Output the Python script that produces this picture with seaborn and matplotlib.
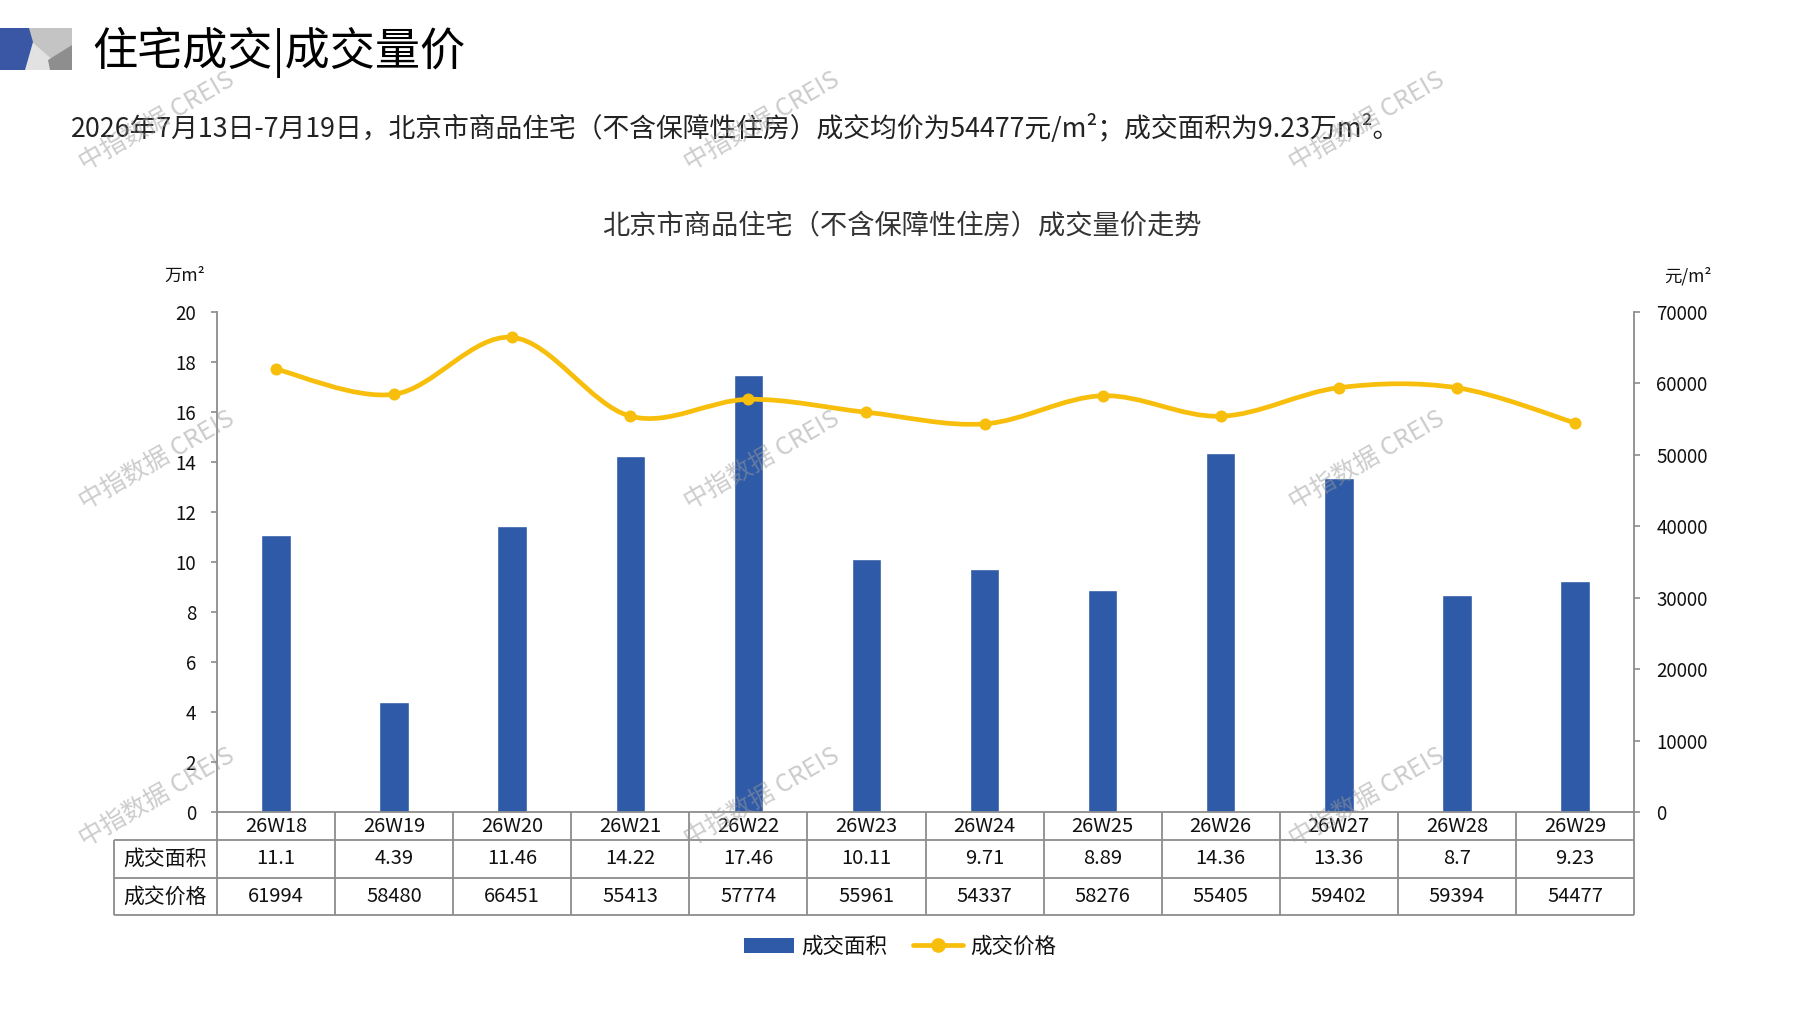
import numpy as np
import pandas as pd
import seaborn as sns
import matplotlib
matplotlib.use("Agg")
import matplotlib.pyplot as plt
from matplotlib.path import Path
from matplotlib.patches import PathPatch, Polygon, Patch
from matplotlib.lines import Line2D
import matplotlib.transforms as mtransforms

# ---------------- data ----------------
weeks = ["26W18", "26W19", "26W20", "26W21", "26W22", "26W23",
         "26W24", "26W25", "26W26", "26W27", "26W28", "26W29"]
area = [11.1, 4.39, 11.46, 14.22, 17.46, 10.11, 9.71, 8.89, 14.36, 13.36, 8.7, 9.23]
area_labels = ["11.1", "4.39", "11.46", "14.22", "17.46", "10.11",
               "9.71", "8.89", "14.36", "13.36", "8.7", "9.23"]
price = [61994, 58480, 66451, 55413, 57774, 55961, 54337, 58276, 55405, 59402, 59394, 54477]
left_ticks = [0, 2, 4, 6, 8, 10, 12, 14, 16, 18, 20]
right_ticks = [0, 10000, 20000, 30000, 40000, 50000, 60000, 70000]
row_names = ["成交面积", "成交价格"]
series_names = ["成交面积", "成交价格"]

title = "住宅成交|成交量价"
subtitle = "2026年7月13日-7月19日，北京市商品住宅（不含保障性住房）成交均价为54477元/m²；成交面积为9.23万m²。"
chart_title = "北京市商品住宅（不含保障性住房）成交量价走势"
left_unit = "万m²"
right_unit = "元/m²"
watermark = "中指数据 CREIS"

# ---------------- style ----------------
BLUE = "#2E5AA7"
YELLOW = "#F8BE0C"
GREY = "#8C8C8C"
W, H = 1797, 1010

sns.set_theme(style="white")
plt.rcParams['font.family'] = ['Noto Sans CJK SC', 'DejaVu Sans']
plt.rcParams['axes.unicode_minus'] = False

fig = plt.figure(figsize=(W / 100, H / 100), dpi=100)
fig.patch.set_facecolor("white")

def fx(px):
    return px / W

def fy(py):
    return 1 - py / H

# axes geometry in pixels
AX_L, AX_R, AX_T, AX_B = 217, 1634, 312, 812
ax = fig.add_axes([fx(AX_L), fy(AX_B), (AX_R - AX_L) / W, (AX_B - AX_T) / H])
ax.set_facecolor("none")

df = pd.DataFrame({"week": weeks, "area": area, "price": price})
sns.barplot(data=df, x="week", y="area", ax=ax, color=BLUE, saturation=1,
            width=0.25, zorder=2)
ax.set_xlim(-0.5, len(weeks) - 0.5)
ax.set_ylim(0, 20)
ax.set_yticks(left_ticks)
ax.set_xticks([])
ax.set_xlabel("")
ax.set_ylabel("")
ax.tick_params(axis="y", direction="out", length=4, width=1.2, color=GREY,
               labelsize=13.5, pad=11, labelcolor="#111111", left=True)

ax2 = ax.twinx()
ax2.set_ylim(0, 70000)
ax2.set_yticks(right_ticks)
ax2.tick_params(axis="y", direction="out", length=4, width=1.2, color=GREY,
                labelsize=13.5, pad=12, labelcolor="#111111", right=True)

for a in (ax, ax2):
    for s in a.spines.values():
        s.set_visible(False)
ax.spines["left"].set_visible(True)
ax.spines["left"].set_color(GREY)
ax.spines["left"].set_linewidth(1.3)
ax.spines["bottom"].set_visible(True)
ax.spines["bottom"].set_color(GREY)
ax.spines["bottom"].set_linewidth(1.3)
ax2.spines["right"].set_visible(True)
ax2.spines["right"].set_color(GREY)
ax2.spines["right"].set_linewidth(1.3)

# smooth (Excel-like) price line built as Bezier path in data coordinates
xs = np.arange(len(price), dtype=float)
ys = np.array(price, dtype=float)
n = len(xs)
verts = [(xs[0], ys[0])]
codes = [Path.MOVETO]
for i in range(n - 1):
    i0, i3 = max(i - 1, 0), min(i + 2, n - 1)
    c1 = (xs[i] + (xs[i + 1] - xs[i0]) / 6, ys[i] + (ys[i + 1] - ys[i0]) / 6)
    c2 = (xs[i + 1] - (xs[i3] - xs[i]) / 6, ys[i + 1] - (ys[i3] - ys[i]) / 6)
    verts += [c1, c2, (xs[i + 1], ys[i + 1])]
    codes += [Path.CURVE4] * 3
ax2.add_patch(PathPatch(Path(verts, codes), facecolor="none", edgecolor=YELLOW,
                        lw=3.4, capstyle="round", joinstyle="round", zorder=3))
sns.scatterplot(x=xs, y=ys, ax=ax2, s=75, color=YELLOW, edgecolor=YELLOW,
                linewidth=0, zorder=4, legend=False)
ax2.set_xlim(-0.5, len(weeks) - 0.5)
ax2.set_ylim(0, 70000)
ax2.set_xlabel("")
ax2.set_ylabel("")

# ---------------- data table below the axis ----------------
def ay(py):
    return (AX_B - py) / (AX_B - AX_T)

def axx(px):
    return (px - AX_L) / (AX_R - AX_L)

blend = mtransforms.blended_transform_factory(ax.transData, ax.transAxes)
r1, r2, r3 = ay(840), ay(878), ay(915)
lk = dict(color=GREY, lw=1.3, clip_on=False, solid_capstyle="butt")
for yy in (r1, r2, r3):
    ax.add_line(Line2D([axx(114), 1], [yy, yy], transform=ax.transAxes, **lk))
ax.add_line(Line2D([axx(114), axx(114)], [r1, r3], transform=ax.transAxes, **lk))
for k in range(len(weeks) + 1):
    xv = k - 0.5
    ax.add_line(Line2D([xv, xv], [0, r3], transform=blend, **lk))

cat_y = (0 + r1) / 2
row2_y = (r1 + r2) / 2
row3_y = (r2 + r3) / 2
TFS = 14.5
for i, w in enumerate(weeks):
    ax.text(i, cat_y, w, transform=blend, ha="center", va="center",
            fontsize=TFS, color="#111111", clip_on=False)
    ax.text(i, row2_y, area_labels[i], transform=blend, ha="center", va="center",
            fontsize=TFS, color="#111111", clip_on=False)
    ax.text(i, row3_y, str(price[i]), transform=blend, ha="center", va="center",
            fontsize=TFS, color="#111111", clip_on=False)
lab_x = axx((114 + 216) / 2)
ax.text(lab_x, row2_y, row_names[0], transform=ax.transAxes, ha="center", va="center",
        fontsize=15, color="#111111", clip_on=False)
ax.text(lab_x, row3_y, row_names[1], transform=ax.transAxes, ha="center", va="center",
        fontsize=15, color="#111111", clip_on=False)

# ---------------- units ----------------
fig.text(fx(164), fy(276), left_unit, ha="left", va="center", fontsize=12.5, color="#111111")
fig.text(fx(1664), fy(276), right_unit, ha="left", va="center", fontsize=12.5, color="#111111")

# ---------------- header ----------------
ic = dict(transform=fig.transFigure, clip_on=False)
def P(pts, col):
    fig.patches.append(Polygon([(fx(a), fy(b)) for a, b in pts], closed=True,
                               facecolor=col, edgecolor="none", **ic))
P([(0, 28), (72, 28), (72, 70), (0, 70)], "#C4C4C4")
P([(30, 40), (64, 70), (20, 70)], "#E2E2E2")
P([(72, 45), (72, 70), (50, 70), (48, 60)], "#8E8E8E")
P([(0, 28), (29, 28), (33, 42), (25, 70), (0, 70)], "#3A57A6")

fig.text(fx(92), fy(52), title, ha="left", va="center", fontsize=32.5, color="#000000")
fig.text(fx(71), fy(129), subtitle, ha="left", va="center", fontsize=19.3, color="#222222")
fig.text(0.502, fy(226), chart_title, ha="center", va="center", fontsize=19.6, color="#333333")

# ---------------- legend ----------------
handles = [Patch(facecolor=BLUE, edgecolor="none"),
           Line2D([0], [0], color=YELLOW, lw=3.4, marker="o", markersize=9.5,
                  markerfacecolor=YELLOW, markeredgecolor=YELLOW)]
fig.legend(handles, series_names, loc="center", bbox_to_anchor=(0.501, fy(947)),
           ncol=2, frameon=False, fontsize=15.5, handlelength=2.3,
           handletextpad=0.35, columnspacing=1.2, labelcolor="#111111")

# ---------------- watermarks ----------------
for cx in (157, 762, 1367):
    for cy in (121, 460, 797):
        fig.text(fx(cx), fy(cy), watermark, ha="center", va="center", rotation=30,
                 fontsize=18, color="#9A9A9A", alpha=0.5, zorder=10)

fig.savefig("out.png", dpi=100, facecolor="white")
